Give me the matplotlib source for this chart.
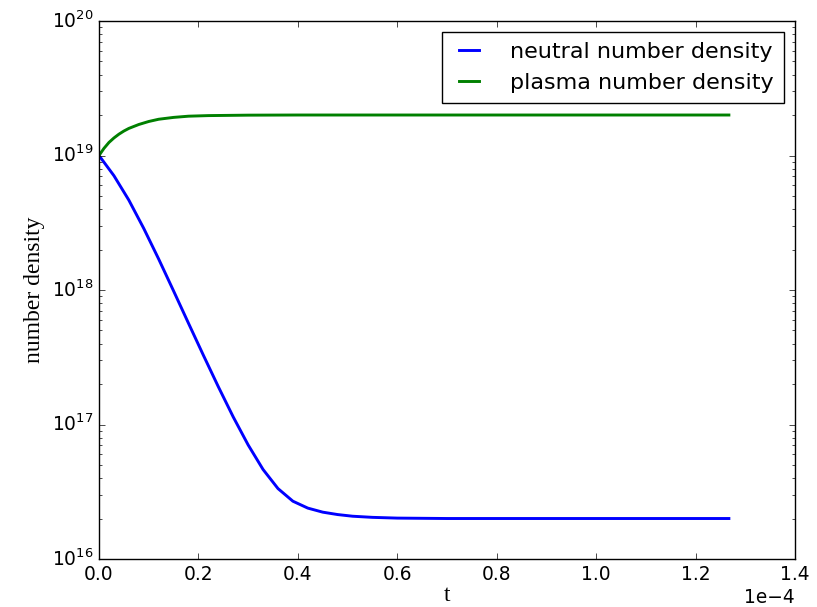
import matplotlib
matplotlib.use('Agg')
import matplotlib.pyplot as plt

# values (t in seconds, densities in m^-3)
t_neutral = [0.0, 0.03e-4, 0.06e-4, 0.09e-4, 0.12e-4, 0.15e-4, 0.18e-4, 0.21e-4,
             0.24e-4, 0.27e-4, 0.30e-4, 0.33e-4, 0.36e-4, 0.39e-4, 0.42e-4,
             0.45e-4, 0.48e-4, 0.51e-4, 0.55e-4, 0.6e-4, 0.7e-4, 1.267e-4]
n_neutral = [1.0e19, 7.08e18, 4.66e18, 2.87e18, 1.70e18, 9.84e17, 5.66e17, 3.27e17,
             1.91e17, 1.138e17, 7.05e16, 4.63e16, 3.34e16, 2.69e16, 2.39e16,
             2.23e16, 2.14e16, 2.08e16, 2.04e16, 2.014e16, 2.0e16, 2.0e16]

t_plasma = [0.0, 0.01e-4, 0.02e-4, 0.03e-4, 0.04e-4, 0.05e-4, 0.06e-4, 0.08e-4,
            0.10e-4, 0.12e-4, 0.15e-4, 0.18e-4, 0.22e-4, 0.3e-4, 0.4e-4, 1.267e-4]
n_plasma = [1.0e19, 1.13e19, 1.25e19, 1.35e19, 1.44e19, 1.52e19, 1.59e19, 1.70e19,
            1.79e19, 1.86e19, 1.92e19, 1.96e19, 1.98e19, 1.995e19, 2.0e19, 2.0e19]

plt.style.use('classic')
plt.rcParams['font.size'] = 13.4

fig = plt.figure(figsize=(8.17, 6.07), dpi=100)
ax = fig.add_axes([99/817., 48/607., 696/817., 538/607.])

ax.plot(t_neutral, n_neutral, color='b', lw=2.1, label='neutral number density')
ax.plot(t_plasma, n_plasma, color='g', lw=2.1, label='plasma number density')
ax.set_yscale('log')
ax.set_xlim(0, 1.4e-4)
ax.set_ylim(1e16, 1e20)
ax.ticklabel_format(axis='x', style='sci', scilimits=(-3, 3))

ax.set_xlabel('t', family='Liberation Serif', fontsize=17, labelpad=1)
ax.set_ylabel('number density', family='Liberation Serif', fontsize=17)
ax.legend(loc='upper right', fontsize=16, handlelength=1.5, handletextpad=1.1,
          labelspacing=0.5, borderpad=0.45)

fig.savefig('out.png', dpi=100)
